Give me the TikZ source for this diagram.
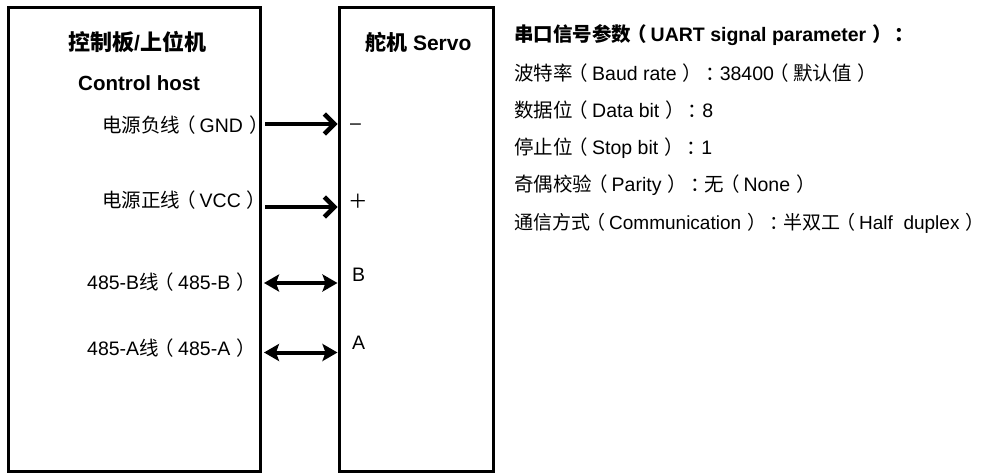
\documentclass[tikz,border=0pt]{standalone}
\usepackage{fontspec}
\setmainfont{Liberation Sans}
\newfontfamily\cjk{Noto Sans CJK SC}
\usetikzlibrary{arrows.meta}
\newcommand\zh[1]{{\cjk #1}}
\newcommand\lp{\kern-4pt\zh{（}\kern4pt}
\newcommand\rp{\kern6pt\zh{）}\kern-4pt}
\newcommand\rpe{\kern6pt\zh{）}\kern-9pt}
\newcommand\cn{\kern7pt\zh{：}\kern-5pt}
\begin{document}
\begin{tikzpicture}[x=1pt,y=-1pt,
  box/.style={draw, line width=3pt, outer sep=0pt, inner sep=0pt},
  lbl/.style={inner sep=0pt, font=\fontsize{19.5}{23}\selectfont},
  boldlbl/.style={inner sep=0pt, font=\fontsize{19.5}{23}\selectfont\bfseries},
  ttl/.style={inner sep=0pt, font=\fontsize{21}{25}\selectfont\bfseries},
  pwr/.style={line width=4.5pt, line join=round, -{Straight Barb[length=10pt,width=20pt]}, shorten >=1.5pt},
  bidir/.style={line width=4pt, {Stealth[length=15pt,width=17pt,inset=3pt]}-{Stealth[length=15pt,width=17pt,inset=3pt]}, shorten >=1.5pt}
]
\useasboundingbox (0,0) rectangle (992,473);

% boxes
\node[box, minimum width=252pt, minimum height=463pt] (host) at (134,239.5) {};
\node[box, minimum width=154pt, minimum height=463pt] (servo) at (416,239.5) {};

% titles
\node[ttl, anchor=west] (hostzh) at (68,42) {\zh{\fontsize{22}{25}\selectfont 控制板}/\zh{\fontsize{22}{25}\selectfont 上位机}};
\node[ttl, font=\fontsize{20.5}{25}\selectfont\bfseries, anchor=west] (hosten) at (78,83) {Control host};
\node[ttl, anchor=west] (servot) at (365,42) {\zh{舵机} Servo};

% host labels
\node[lbl, anchor=west] (lgnd) at (102,125) {\zh{电源负线}\lp GND\rp};
\node[lbl, anchor=west] (lvcc) at (102,200) {\zh{电源正线}\lp VCC\rp};
\node[lbl, anchor=west] (lb) at (87,282) {485-B\zh{线}\lp 485-B\rp};
\node[lbl, anchor=west] (la) at (87,348) {485-A\zh{线}\lp 485-A\rp};

% servo pins
\node[lbl, anchor=west] (pg) at (350,127) {–};
\node[lbl, anchor=west] (pv) at (348,201) {\zh{＋}};
\node[lbl, anchor=west] (pb) at (352,275) {B};
\node[lbl, anchor=west] (pa) at (352,343) {A};

% connector end points on servo edge
\coordinate (sg) at (339,124);
\coordinate (sv) at (339,207);
\coordinate (sb) at (339,283);
\coordinate (sa) at (339,352.5);

\draw[pwr] ([xshift=5pt]host.east |- sg) -- (sg);
\draw[pwr] ([xshift=5pt]host.east |- sv) -- (sv);
\draw[bidir, shorten <=0pt] ([xshift=4pt]host.east |- sb) -- (sb);
\draw[bidir, shorten <=0pt] ([xshift=4pt]host.east |- sa) -- (sa);

% UART parameters
\node[boldlbl, anchor=west] (u0) at (514,35) {\zh{串口信号参数}\lp UART signal parameter\rp\cn};
\node[lbl, anchor=west] (u1) at (514,73) {\zh{波特率}\lp Baud rate\rp\cn 38400\lp\zh{默认值}\rp};
\node[lbl, anchor=west] (u2) at (514,110) {\zh{数据位}\lp Data bit\rp\cn 8};
\node[lbl, anchor=west] (u3) at (514,148) {\zh{停止位}\lp Stop bit\rp\cn 1};
\node[lbl, anchor=west] (u4) at (514,185) {\zh{奇偶校验}\lp Parity\rp\cn\zh{无}\lp None\rp};
\node[lbl, font=\fontsize{19}{23}\selectfont, anchor=west] (u5) at (514,223) {\zh{通信方式}\lp Communication\rp\cn\zh{半双工}\lp Half\ \ duplex\rpe};
\end{tikzpicture}
\end{document}
